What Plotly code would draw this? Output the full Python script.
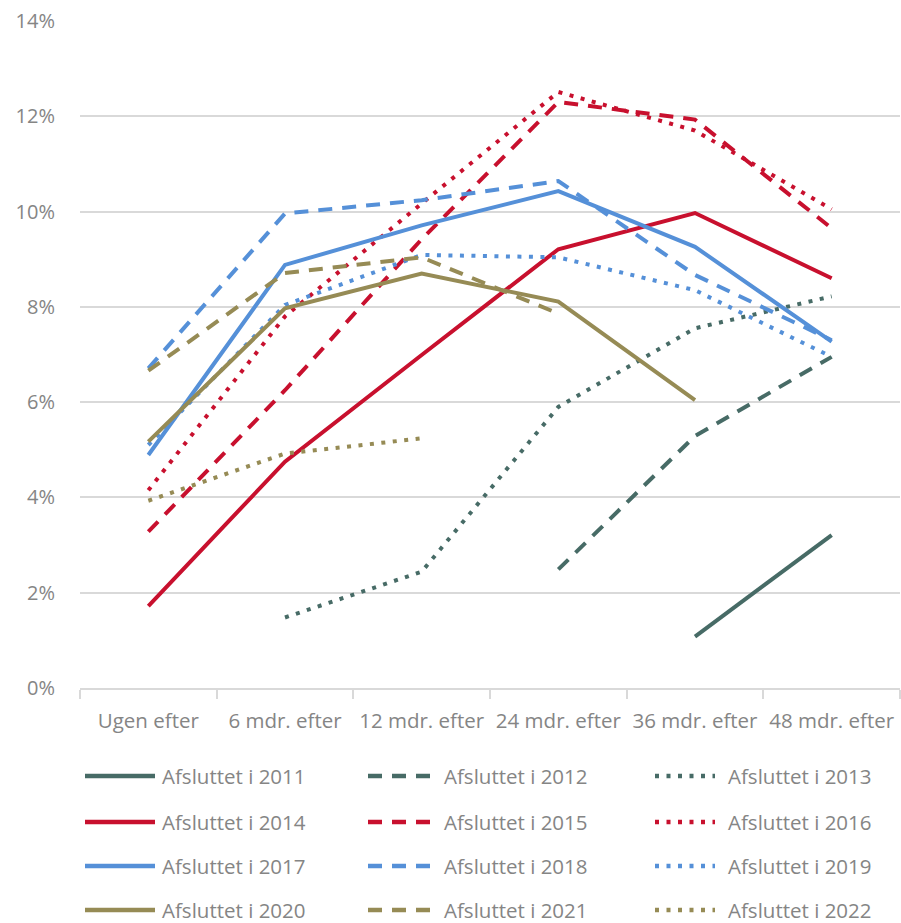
import plotly.graph_objects as go

# ── Data ─────────────────────────────────────────────────────────────────────
categories = ["Ugen efter", "6 mdr. efter", "12 mdr. efter",
              "24 mdr. efter", "36 mdr. efter", "48 mdr. efter"]

y2011 = [None, None, None, None, 0.0108, 0.0321]
y2012 = [None, None, None, 0.0249, 0.0529, 0.0695]
y2013 = [None, 0.0148, 0.0244, 0.0590, 0.0755, 0.0822]
y2014 = [0.0172, 0.0475, 0.0699, 0.0921, 0.0997, 0.0860]
y2015 = [0.0328, 0.0625, 0.0942, 0.1230, 0.1193, 0.0965]
y2016 = [0.0415, 0.0780, 0.1017, 0.1251, 0.1170, 0.1005]
y2017 = [0.0489, 0.0888, 0.0971, 0.1043, 0.0926, 0.0727]
y2018 = [0.0671, 0.0996, 0.1024, 0.1064, 0.0867, 0.0730]
y2019 = [0.0510, 0.0804, 0.0909, 0.0904, 0.0835, 0.0695]
y2020 = [0.0517, 0.0797, 0.0870, 0.0811, 0.0604, None]
y2021 = [0.0666, 0.0871, 0.0904, 0.0786, None, None]
y2022 = [0.0393, 0.0492, 0.0524, None, None, None]

names = ["Afsluttet i 2011", "Afsluttet i 2012", "Afsluttet i 2013",
         "Afsluttet i 2014", "Afsluttet i 2015", "Afsluttet i 2016",
         "Afsluttet i 2017", "Afsluttet i 2018", "Afsluttet i 2019",
         "Afsluttet i 2020", "Afsluttet i 2021", "Afsluttet i 2022"]
series = [y2011, y2012, y2013, y2014, y2015, y2016,
          y2017, y2018, y2019, y2020, y2021, y2022]

# ── Styles ───────────────────────────────────────────────────────────────────
TEAL = "#476B66"
RED = "#C8102E"
BLUE = "#5590D8"
TAN = "#968B55"
GRID = "#D9D9D9"
TEXT = "#858585"
FONT = "Open Sans"

colors = [TEAL] * 3 + [RED] * 3 + [BLUE] * 3 + [TAN] * 3
dashes = ["solid", "14px,10px", "4px,7.5px"] * 4
LW = 4

W, H = 901, 923
L, R, T, B = 80, 900, 21, 688  # plot area in pixels


def px_x(px):
    return (px - L) / (R - L)


def px_y(py):
    return (B - py) / (B - T)


fig = go.Figure()
for name, ys, c, d in zip(names, series, colors, dashes):
    fig.add_trace(go.Scatter(
        x=categories, y=ys, name=name, mode="lines",
        line=dict(color=c, width=LW, dash=d),
        connectgaps=False, showlegend=False,
    ))

# ── Legend (drawn by hand: 3 columns x 4 rows) ───────────────────────────────
col_sym = [(85, 155), (368, 432), (655, 715)]
col_txt = [160, 442, 726]
row_y = [776, 822, 866, 910]
shapes, annotations = [], []
for i, (name, c, d) in enumerate(zip(names, colors, dashes)):
    r, k = divmod(i, 3)
    x0, x1 = col_sym[k]
    shapes.append(dict(
        type="line", xref="paper", yref="paper",
        x0=px_x(x0), x1=px_x(x1), y0=px_y(row_y[r]), y1=px_y(row_y[r]),
        line=dict(color=c, width=LW + 0.5, dash=d),
    ))
    annotations.append(dict(
        text=name, xref="paper", yref="paper", showarrow=False,
        x=px_x(col_txt[k]), y=px_y(row_y[r]),
        xanchor="left", yanchor="middle",
        font=dict(family=FONT, size=20.5, color=TEXT),
    ))

fig.update_layout(
    width=W, height=H,
    paper_bgcolor="white", plot_bgcolor="white",
    margin=dict(l=L, r=W - R, t=T, b=H - B),
    font=dict(family=FONT, size=20, color=TEXT),
    showlegend=False,
    shapes=shapes, annotations=annotations,
    xaxis=dict(
        type="category", categoryorder="array", categoryarray=categories,
        showgrid=False, showline=True, linecolor=GRID, linewidth=1.5,
        ticks="outside", tickson="boundaries", ticklen=9,
        tickcolor=GRID, tickwidth=1.5, ticklabelstandoff=14,
        tickangle=0, automargin=False,
        tickfont=dict(size=20.5, color=TEXT),
        range=[-0.5, 5.5],
    ),
    yaxis=dict(
        range=[0, 0.14], dtick=0.02, tickformat=".0%",
        showgrid=True, gridcolor=GRID, gridwidth=1.5,
        zeroline=False, showline=False, ticks="", automargin=False,
        ticklabelstandoff=24,
        tickfont=dict(size=20, color=TEXT),
    ),
)

fig.write_html("out.html", config={"displayModeBar": False},
               post_script="document.body.style.margin='0';")
